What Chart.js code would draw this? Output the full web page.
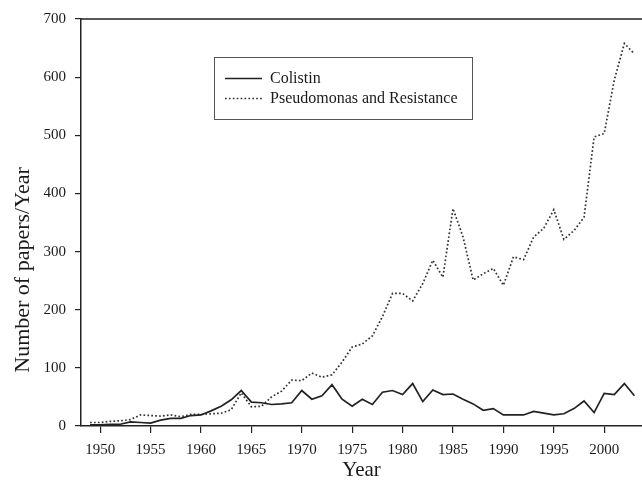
<!DOCTYPE html>
<html>
<head>
<meta charset="utf-8">
<script src="https://cdn.jsdelivr.net/npm/chart.js@4/dist/chart.umd.min.js"></script>
<style>
  html, body { margin: 0; padding: 0; background: #fff; }
  #wrap { width: 642px; height: 481px; }
</style>
</head>
<body>
<div id="wrap"><canvas id="chart" width="642" height="481"></canvas></div>
<script>
/* ===== Colistin vs Pseudomonas publications per year ===== */

const years = [
    1949, 1950, 1951, 1952, 1953, 1954, 1955, 1956, 1957, 1958,
    1959, 1960, 1961, 1962, 1963, 1964, 1965, 1966, 1967, 1968,
    1969, 1970, 1971, 1972, 1973, 1974, 1975, 1976, 1977, 1978,
    1979, 1980, 1981, 1982, 1983, 1984, 1985, 1986, 1987, 1988,
    1989, 1990, 1991, 1992, 1993, 1994, 1995, 1996, 1997, 1998,
    1999, 2000, 2001, 2002, 2003
];

const colistin = [
    2, 2, 3, 3, 7, 6, 5, 10, 13, 13,
    18, 19, 26, 34, 45, 61, 41, 40, 37, 38,
    40, 61, 46, 52, 71, 46, 34, 46, 37, 58,
    61, 54, 73, 42, 62, 54, 55, 46, 38, 27,
    30, 19, 19, 19, 25, 22, 19, 21, 30, 43,
    23, 56, 54, 73, 52
];

const pseudomonas = [
    6, 6, 8, 9, 11, 19, 18, 17, 19, 16,
    20, 20, 21, 22, 28, 57, 33, 34, 50, 60,
    79, 78, 91, 84, 88, 110, 136, 141, 155, 188,
    228, 228, 215, 245, 285, 256, 374, 325, 251, 262,
    271, 242, 291, 286, 325, 340, 372, 321, 336, 359,
    497, 503, 595, 658, 640
];

const yearTicks = [1950, 1955, 1960, 1965, 1970, 1975, 1980, 1985, 1990, 1995, 2000];
const countTicks = [0, 100, 200, 300, 400, 500, 600, 700];

const seriesNames = ['Colistin', 'Pseudomonas and Resistance'];
const yTitle = 'Number of papers/Year';

const INK = '#222';
const SERIF = "'Liberation Serif', 'Times New Roman', serif";

// top frame line, y title and boxed legend inside the plot
const framePlugin = {
    id: 'framePlugin',
    afterDraw(chart) {
        const { ctx, chartArea: a } = chart;
        ctx.save();
        ctx.strokeStyle = INK;
        ctx.lineWidth = 1.5;
        ctx.beginPath();
        ctx.moveTo(a.left, a.top);
        ctx.lineTo(a.right, a.top);
        ctx.stroke();

        // y axis title, sits a bit below the axis middle like the original
        ctx.save();
        ctx.translate(23, 270);
        ctx.rotate(-Math.PI / 2);
        ctx.font = '22px ' + SERIF;
        ctx.fillStyle = '#1a1a1a';
        ctx.textAlign = 'center';
        ctx.textBaseline = 'middle';
        ctx.fillText(yTitle, 0, 0);
        ctx.restore();

        // legend box
        ctx.lineWidth = 1;
        ctx.strokeStyle = '#555';
        ctx.strokeRect(214.5, 57.5, 258, 62);

        ctx.font = '16px ' + SERIF;
        ctx.fillStyle = '#1a1a1a';
        ctx.textBaseline = 'middle';

        chart.data.datasets.forEach((ds, i) => {
            const y = 78.5 + i * 20;
            ctx.strokeStyle = ds.borderColor;
            ctx.lineWidth = ds.borderWidth;
            ctx.setLineDash(ds.borderDash || []);
            ctx.beginPath();
            ctx.moveTo(225, y);
            ctx.lineTo(262, y);
            ctx.stroke();
            ctx.setLineDash([]);
            ctx.fillText(ds.label, 270, y);
        });
        ctx.restore();
    }
};

new Chart(document.getElementById('chart'), {
    type: 'line',
    data: {
        datasets: [
            {
                label: seriesNames[0],
                data: years.map((yr, i) => ({ x: yr, y: colistin[i] })),
                borderColor: INK,
                borderWidth: 1.7,
                pointRadius: 0,
                tension: 0,
                fill: false
            },
            {
                label: seriesNames[1],
                data: years.map((yr, i) => ({ x: yr, y: pseudomonas[i] })),
                borderColor: '#333',
                borderWidth: 1.7,
                borderDash: [1.7, 2.2],
                pointRadius: 0,
                tension: 0,
                fill: false
            }
        ]
    },
    options: {
        responsive: false,
        animation: false,
        devicePixelRatio: 1,
        layout: { padding: { top: 19, right: 0, left: 0, bottom: 0 } },
        plugins: {
            legend: { display: false },
            tooltip: { enabled: false }
        },
        scales: {
            x: {
                type: 'linear',
                min: 1948.1,
                max: 2003.75,
                afterBuildTicks: s => { s.ticks = yearTicks.map(v => ({ value: v })); },
                afterFit: s => { s.height = 55; },
                border: { display: true, color: INK, width: 1.5 },
                grid: { drawOnChartArea: false, drawTicks: true, tickLength: 7, color: INK, lineWidth: 1.2 },
                ticks: {
                    color: '#1a1a1a',
                    padding: 8,
                    maxRotation: 0,
                    autoSkip: false,
                    font: { family: SERIF, size: 15 },
                    callback: v => String(v)
                },
                title: {
                    display: true,
                    text: 'Year',
                    color: '#1a1a1a',
                    padding: 0,
                    font: { family: SERIF, size: 21, lineHeight: 1 }
                }
            },
            y: {
                min: 0,
                max: 700,
                afterBuildTicks: s => { s.ticks = countTicks.map(v => ({ value: v })); },
                afterFit: s => { s.width = 81; },
                border: { display: true, color: INK, width: 1.5 },
                grid: { drawOnChartArea: false, drawTicks: true, tickLength: 6, color: INK, lineWidth: 1.2 },
                ticks: {
                    color: '#1a1a1a',
                    padding: 9,
                    font: { family: SERIF, size: 15 }
                }
            }
        }
    },
    plugins: [framePlugin]
});
</script>
</body>
</html>
